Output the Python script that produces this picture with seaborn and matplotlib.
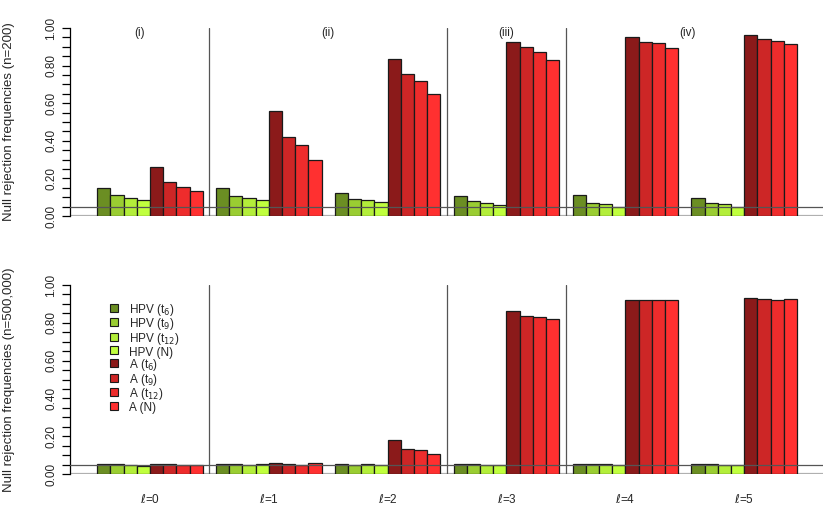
import numpy as np
import pandas as pd
import matplotlib
matplotlib.use("Agg")
import matplotlib.pyplot as plt
from matplotlib.lines import Line2D
import seaborn as sns

# categories
ells = [r"$\ell$=0", r"$\ell$=1", r"$\ell$=2", r"$\ell$=3", r"$\ell$=4", r"$\ell$=5"]
methods = ["HPV (t$_6$)", "HPV (t$_9$)", "HPV (t$_{12}$)", "HPV (N)",
           "A (t$_6$)", "A (t$_9$)", "A (t$_{12}$)", "A (N)"]
colors = ["#6B8E23", "#9ACD32", "#B3EE3A", "#C0FF3E",
          "#8B1A1A", "#CD2626", "#EE2C2C", "#FF3030"]

# null rejection frequencies, n=200 (one list per method, over l=0..5)
hpv_t6_200 = [0.147, 0.147, 0.121, 0.106, 0.110, 0.096]
hpv_t9_200 = [0.112, 0.105, 0.090, 0.078, 0.069, 0.067]
hpv_t12_200 = [0.096, 0.096, 0.083, 0.067, 0.062, 0.062]
hpv_n_200 = [0.083, 0.087, 0.073, 0.059, 0.046, 0.048]
a_t6_200 = [0.262, 0.559, 0.837, 0.924, 0.952, 0.963]
a_t9_200 = [0.182, 0.422, 0.757, 0.899, 0.927, 0.943]
a_t12_200 = [0.156, 0.376, 0.718, 0.871, 0.918, 0.932]
a_n_200 = [0.131, 0.298, 0.649, 0.830, 0.892, 0.913]

# null rejection frequencies, n=500,000
hpv_t6_5e5 = [0.051, 0.051, 0.051, 0.051, 0.051, 0.051]
hpv_t9_5e5 = [0.051, 0.051, 0.049, 0.051, 0.051, 0.051]
hpv_t12_5e5 = [0.050, 0.050, 0.051, 0.050, 0.053, 0.050]
hpv_n_5e5 = [0.044, 0.054, 0.050, 0.050, 0.050, 0.050]
a_t6_5e5 = [0.051, 0.056, 0.180, 0.862, 0.921, 0.930]
a_t9_5e5 = [0.051, 0.051, 0.132, 0.838, 0.919, 0.926]
a_t12_5e5 = [0.049, 0.050, 0.127, 0.832, 0.921, 0.921]
a_n_5e5 = [0.048, 0.056, 0.107, 0.820, 0.921, 0.926]

panel_labels = ["(i)", "(ii)", "(iii)", "(iv)"]
panel_label_x = [-0.09, 1.5, 3.0, 4.52]
separators = [0.5, 2.5, 3.5]
nominal = 0.05


def long_frame(series):
    rows = []
    for m, vals in zip(methods, series):
        for e, v in zip(ells, vals):
            rows.append({"ell": e, "method": m, "value": v})
    return pd.DataFrame(rows)


df200 = long_frame([hpv_t6_200, hpv_t9_200, hpv_t12_200, hpv_n_200,
                    a_t6_200, a_t9_200, a_t12_200, a_n_200])
df5e5 = long_frame([hpv_t6_5e5, hpv_t9_5e5, hpv_t12_5e5, hpv_n_5e5,
                    a_t6_5e5, a_t9_5e5, a_t12_5e5, a_n_5e5])

sns.set_style("white")
plt.rcParams["font.family"] = ["Liberation Sans", "DejaVu Sans"]
plt.rcParams["font.size"] = 8.5

W, H = 830, 530
fig = plt.figure(figsize=(8.3, 5.3), dpi=100)
left, right = 70, 823
ax1 = fig.add_axes([left / W, (H - 216) / H, (right - left) / W, 188 / H])
ax2 = fig.add_axes([left / W, (H - 474) / H, (right - left) / W, 189 / H])


def draw_panel(ax, df, ylabel):
    ax.axhline(0, color="#b0b0b0", lw=1.6, zorder=0)
    sns.barplot(data=df, x="ell", y="value", hue="method", palette=colors,
                order=ells, hue_order=methods, width=8 / 9, dodge=True,
                saturation=1, edgecolor="#1a1a1a", linewidth=0.9,
                errorbar=None, ax=ax, zorder=2, legend=False)
    ax.axhline(nominal, color="#555555", lw=0.9, zorder=3)
    for s in separators:
        ax.plot([s, s], [0, 1], color="#555555", lw=0.9, zorder=3)
    ax.set_xlim(-0.674, 5.664)
    ax.set_ylim(0, 1)
    for sp in ["top", "right", "bottom"]:
        ax.spines[sp].set_visible(False)
    ax.spines["left"].set_color("black")
    ax.spines["left"].set_linewidth(0.9)
    ax.set_yticks(np.arange(0, 1.0001, 0.05))
    ax.set_yticklabels([f"{t:.2f}" if round(t * 100) % 20 == 0 else ""
                        for t in np.arange(0, 1.0001, 0.05)],
                       rotation=90, va="center")
    ax.tick_params(axis="y", left=True, length=6, width=0.9, pad=3,
                   labelsize=8.5, color="black")
    ax.set_ylabel(ylabel, fontsize=9.5)
    ax.yaxis.set_label_coords(-0.073, 0.5)
    ax.set_xlabel("")


draw_panel(ax1, df200, "Null rejection frequencies (n=200)")
ax1.set_xticks([])
for lab, x in zip(panel_labels, panel_label_x):
    ax1.text(x, 0.973, lab, ha="center", va="center", fontsize=8.5)

draw_panel(ax2, df5e5, "Null rejection frequencies (n=500,000)")
# square legend keys, fixed row height so rows are evenly spaced
handles = [Line2D([], [], marker="s", linestyle="", markersize=6.3,
                  markerfacecolor=c, markeredgecolor="#1a1a1a",
                  markeredgewidth=0.8) for c in colors]
ax2.legend(handles, methods, loc="upper left", bbox_to_anchor=(0.046, 0.937),
           frameon=False, fontsize=8.5, handlelength=0.75, handleheight=1.25,
           handletextpad=0.9, labelspacing=-0.12, borderaxespad=0)
ax2.tick_params(axis="x", bottom=False, pad=10, labelsize=8.5)

fig.savefig("out.png", dpi=100)
